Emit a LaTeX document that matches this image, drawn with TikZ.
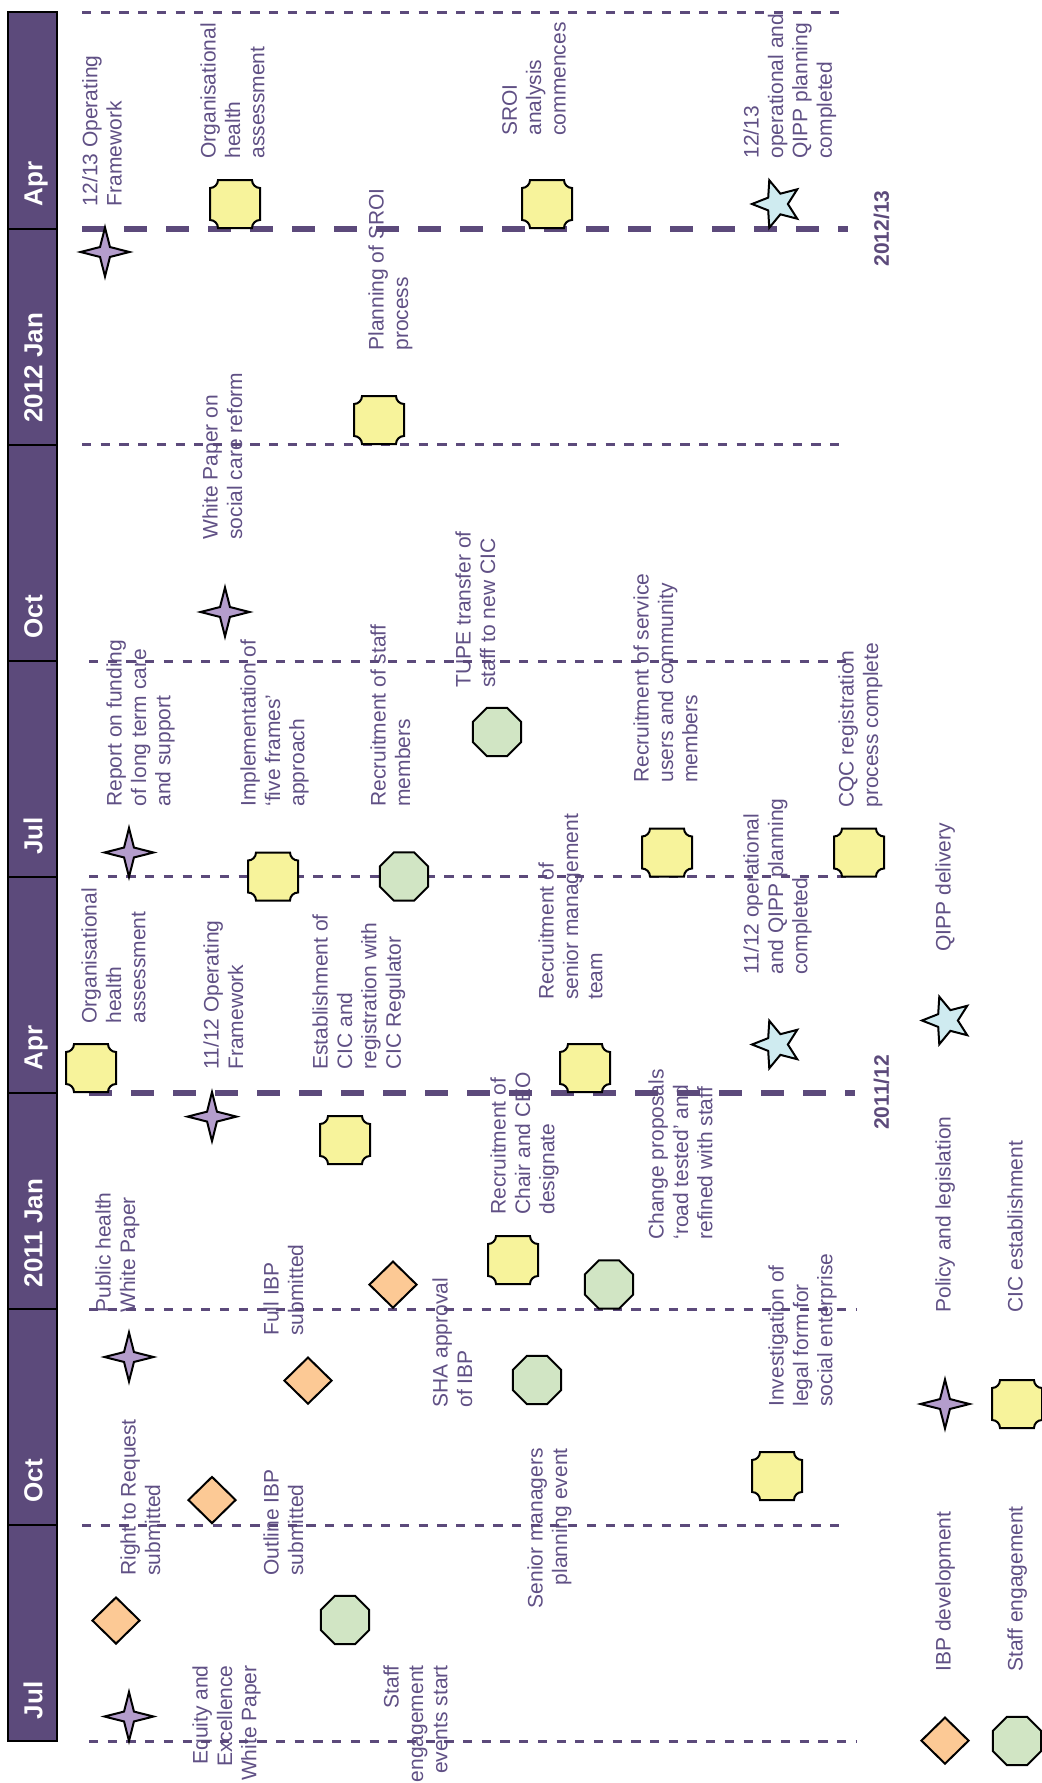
\documentclass[tikz,border=0pt]{standalone}
\usepackage{fontspec}
\setmainfont{Liberation Sans}
\usetikzlibrary{shapes.geometric}
\definecolor{tlpurple}{RGB}{92,74,123}
\definecolor{txtpurple}{RGB}{96,80,133}
\definecolor{polfill}{RGB}{180,157,204}
\definecolor{cicfill}{RGB}{247,243,155}
\definecolor{stafffill}{RGB}{209,229,196}
\definecolor{ibpfill}{RGB}{252,201,149}
\definecolor{qippfill}{RGB}{207,235,240}
\tikzset{
  lbl/.style={rotate=90, anchor=north west, align=left, inner sep=0pt, text=txtpurple,
    font=\fontsize{10.5}{12.2}\selectfont},
  lblr/.style={rotate=90, anchor=north east, align=right, inner sep=0pt, text=txtpurple,
    font=\fontsize{10.5}{12.2}\selectfont},
  monthlbl/.style={rotate=90, anchor=mid west, inner sep=0pt, text=white,
    font=\bfseries\fontsize{13}{15}\selectfont},
  yearlbl/.style={rotate=90, anchor=mid, inner sep=0pt, text=tlpurple,
    font=\bfseries\fontsize{10.5}{12}\selectfont},
  thindash/.style={draw=tlpurple, line width=1.5pt, dash pattern=on 4.6pt off 4.75pt},
  thickdash/.style={draw=tlpurple, line width=3pt, dash pattern=on 11.65pt off 9.35pt},
  sym/.style={draw=black, line width=1pt, inner sep=0pt},
  policy/.style={sym, star, star points=4, star point ratio=3.5, minimum size=24.5pt, fill=polfill},
  qipp/.style={sym, star, star points=5, star point ratio=2.3, minimum size=25pt, fill=qippfill, shape border rotate=90},
  staff/.style={sym, regular polygon, regular polygon sides=8, minimum size=26.2pt, fill=stafffill},
  ibp/.style={sym, diamond, minimum width=24pt, minimum height=23.5pt, fill=ibpfill},
  cicnode/.style={inner sep=0pt, minimum width=25pt, minimum height=24pt},
}
\newcommand\cicsym[2]{%
  \node[cicnode] (#1) at (#2) {};
  \filldraw[fill=cicfill, draw=black, line width=1pt, shift={(#1.center)}]
    (-12.5pt,-8pt) -- (-12.5pt,8pt) arc[start angle=270,end angle=360,radius=4pt]
    -- (8.5pt,12pt) arc[start angle=180,end angle=270,radius=4pt]
    -- (12.5pt,-8pt) arc[start angle=90,end angle=180,radius=4pt]
    -- (-8.5pt,-12pt) arc[start angle=0,end angle=90,radius=4pt] -- cycle;
}
\begin{document}
\begin{tikzpicture}[x=0.5pt,y=-0.5pt]
\useasboundingbox (0,0) rectangle (1041,1783);
\fill[white] (0,0) rectangle (1041,1783);
% header band
\fill[tlpurple] (8.3,12.2) rectangle (57.3,1741);
\draw[black,line width=1pt] (8.3,12.2) rectangle (57.3,1741);
\foreach \yy in {228.5,444.7,661,876.5,1093,1309,1525}
  \draw[black,line width=1pt] (8.3,\yy) -- (57.3,\yy);
\node[monthlbl] (m1) at (37,207) {Apr};
\node[monthlbl] (m2) at (37,423) {2012 Jan};
\node[monthlbl] (m3) at (37,639) {Oct};
\node[monthlbl] (m4) at (37,855) {Jul};
\node[monthlbl] (m5) at (37,1071) {Apr};
\node[monthlbl] (m6) at (37,1287.5) {2011 Jan};
\node[monthlbl] (m7) at (37,1503) {Oct};
\node[monthlbl] (m8) at (37,1719.5) {Jul};
% labels
\node[lbl] (l1) at (81.7,206.5) {12/13 Operating\\Framework};
\node[lbl] (l2) at (200,159) {Organisational\\health\\assessment};
\node[lbl] (l3) at (501.7,136) {SROI\\analysis\\commences};
\node[lbl] (l4) at (743,159) {12/13\\operational and\\QIPP planning\\completed};
\node[lbl] (l5) at (368,351) {Planning of SROI\\process};
\node[lbl] (l6) at (202,540) {White Paper on\\social care reform};
\node[lbl] (l7) at (106,807) {Report on funding\\of long term care\\and support};
\node[lbl] (l8) at (240,807) {Implementation of\\‘five frames’\\approach};
\node[lbl] (l9) at (370,807) {Recruitment of staff\\members};
\node[lbl] (l10) at (455,688) {TUPE transfer of\\staff to new CIC};
\node[lbl] (l11) at (633,783) {Recruitment of service\\users and community\\members};
\node[lbl] (l12) at (838,808) {CQC registration\\process complete};
\node[lbl] (l13) at (81,1024) {Organisational\\health\\assessment};
\node[lbl] (l14) at (203,1070) {11/12 Operating\\Framework};
\node[lbl] (l15) at (312,1070) {Establishment of\\CIC and\\registration with\\CIC Regulator};
\node[lbl] (l16) at (538,1000) {Recruitment of\\senior management\\team};
\node[lbl] (l17) at (743,975) {11/12 operational\\and QIPP planning\\completed};
\node[lbl] (l18) at (935,952) {QIPP delivery};
\node[lbl] (l19) at (490,1215) {Recruitment of\\Chair and CEO\\designate};
\node[lbl] (l20) at (648,1240) {Change proposals\\‘road tested’ and\\refined with staff};
\node[lbl] (l21) at (95,1313) {Public health\\White Paper};
\node[lbl] (l22) at (263,1336) {Full IBP\\submitted};
\node[lbl] (l23) at (432,1408) {SHA approval\\of IBP};
\node[lbl] (l24) at (768,1407) {Investigation of\\legal form for\\social enterprise};
\node[lbl] (l25) at (120,1576) {Right to Request\\submitted};
\node[lbl] (l26) at (263,1576) {Outline IBP\\submitted};
\node[lblr] (r1) at (527,1448) {Senior managers\\planning event};
\node[lblr] (r2) at (192,1665) {Equity and\\Excellence\\White Paper};
\node[lblr] (r3) at (383,1665) {Staff\\engagement\\events start};
\node[lbl] (g1) at (935,1313) {Policy and legislation};
\node[lbl] (g2) at (1007,1313) {CIC establishment};
\node[lbl] (g3) at (935,1672) {IBP development};
\node[lbl] (g4) at (1007,1672) {Staff engagement};
% year labels
\node[yearlbl] (y1) at (883.5,228.5) {2012/13};
\node[yearlbl] (y2) at (883.5,1092.3) {2011/12};
% dashed lines
\draw[thindash] (82,12.2) -- (848,12.2);
\draw[thickdash] (82,228.5) -- (848,228.5);
\draw[thindash] (82,444.7) -- (848,444.7);
\draw[thindash] (89,661) -- (855,661);
\draw[thindash] (89,876.5) -- (855,876.5);
\draw[thickdash] (89,1093) -- (855,1093);
\draw[thindash] (89,1309) -- (856,1309);
\draw[thindash] (82,1525) -- (848,1525);
\draw[thindash] (89,1741) -- (856,1741);
% policy stars
\node[policy] (p1) at (105,252) {};
\node[policy] (p2) at (225,612) {};
\node[policy] (p3) at (129,852.5) {};
\node[policy] (p4) at (212,1116.6) {};
\node[policy] (p5) at (129,1357) {};
\node[policy] (p6) at (129,1716.5) {};
\node[policy] (pl) at (945,1404) {};
% CIC plaques
\cicsym{c1}{235,204}
\cicsym{c2}{547,204}
\cicsym{c3}{379,420}
\cicsym{c4}{273,876.5}
\cicsym{c5}{667,852.5}
\cicsym{c6}{859,852.5}
\cicsym{c7}{91,1068}
\cicsym{c8}{345,1140}
\cicsym{c9}{585,1068}
\cicsym{c10}{513,1260}
\cicsym{c11}{777,1476}
\cicsym{cl}{1017,1404}
% staff octagons
\node[staff] (s1) at (497,732) {};
\node[staff] (s2) at (404,876.5) {};
\node[staff] (s3) at (609,1284.5) {};
\node[staff] (s4) at (537,1380) {};
\node[staff] (s5) at (345,1620) {};
\node[staff] (sl) at (1017,1741) {};
% IBP diamonds
\node[ibp] (d1) at (393,1284.6) {};
\node[ibp] (d2) at (308,1380.6) {};
\node[ibp] (d3) at (212,1500) {};
\node[ibp] (d4) at (116,1620.5) {};
\node[ibp] (dl) at (945,1740.6) {};
% QIPP stars
\node[qipp] (q1) at (777,204) {};
\node[qipp] (q2) at (777,1044.5) {};
\node[qipp] (q3) at (947,1020.5) {};
\end{tikzpicture}
\end{document}
